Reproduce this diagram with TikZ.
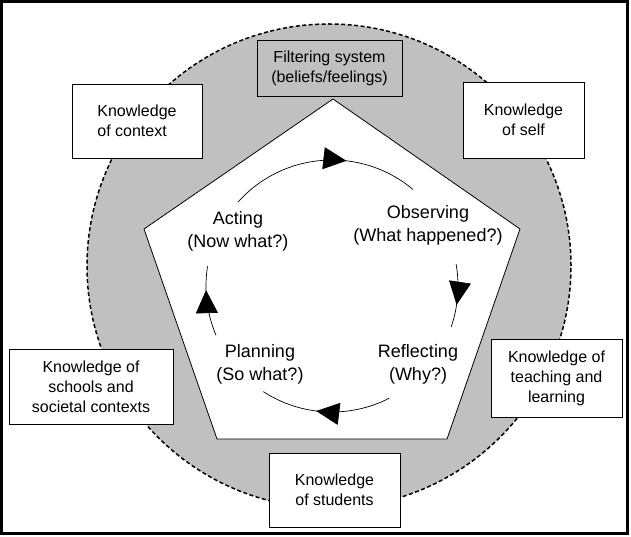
\documentclass[tikz,border=0pt]{standalone}
\usepackage{fontspec}
\setmainfont{Liberation Sans}
\setsansfont{Liberation Sans}
\usetikzlibrary{arrows.meta, decorations.markings}
\definecolor{ringgray}{RGB}{192,192,192}
\tikzset{cycArrow/.tip={Triangle[length=23pt, width=22pt]}}

\begin{document}
\begin{tikzpicture}[x=1pt, y=1pt, font=\sffamily,
	knowbox/.style={draw, fill=white, line width=0.8pt, inner sep=2pt, font=\sffamily\fontsize{16}{20}\selectfont},
	cyctext/.style={align=center, font=\sffamily\fontsize{18}{23}\selectfont}]
	\def\R{242}
	\def\r{126}
	\useasboundingbox (0,0) rectangle (631,536);
	\draw[line width=3pt] (1.5,3) rectangle (627.5,534.5);
	
	\coordinate (O) at (329,270);
	\coordinate (C) at (332,250);
	\coordinate (P1) at (333,437);
	\coordinate (P2) at (520,307);
	\coordinate (P3) at (447,97);
	\coordinate (P4) at (217,97);
	\coordinate (P5) at (144,307);
	
	\draw[fill=ringgray, line width=1.5pt, dash pattern=on 4pt off 2.5pt]	(O) circle (\R);
	\draw[fill=white, line width=0.8pt]	(P1) -- (P2) -- (P3) -- (P4) -- (P5) -- cycle;
	
	\node[knowbox, fill=ringgray, align=center, minimum width=145pt, minimum height=56pt] (filter) at (329.5,468) {Filtering system\\(beliefs/feelings)};
	
	\foreach \name/\x/\y/\w/\h/\al/\txt in {ctx/137/415/130/74/left/{Knowledge\\of context}, self/523.5/416/121/76/center/{Knowledge\\of self}, schools/91/149.5/164/75/center/{Knowledge of\\schools and\\societal contexts}, teaching/556.5/158/131/78/center/{Knowledge of\\teaching and\\learning}, students/334.5/46/131/74/center/{Knowledge\\of students}} {
		\node[knowbox, align=\al, minimum width=\w pt, minimum height=\h pt] (\name) at (\x,\y) {\txt};
	}
	
	\foreach \name/\x/\y/\txt in {acting/238/304.5/{Acting\\(Now what?)}, observing/428/311/{Observing\\(What happened?)}, planning/260/171.5/{Planning\\(So what?)}, reflecting/418/171.5/{Reflecting\\(Why?)}} {
		\node[cyctext] (\name) at (\x,\y) {\txt};
	}
	
	\foreach \a/\b/\p in {138/50/0.62, 10/-19/0.64, -63/-123/0.57, 203/171/0.66} {
		\draw[line width=0.7pt, postaction={decorate, decoration={markings, mark=at position \p with {\arrow{cycArrow}}}}]	(C) ++(\a:\r) arc[start angle=\a, end angle=\b, radius=\r];
	}
	
\end{tikzpicture}
\end{document}
